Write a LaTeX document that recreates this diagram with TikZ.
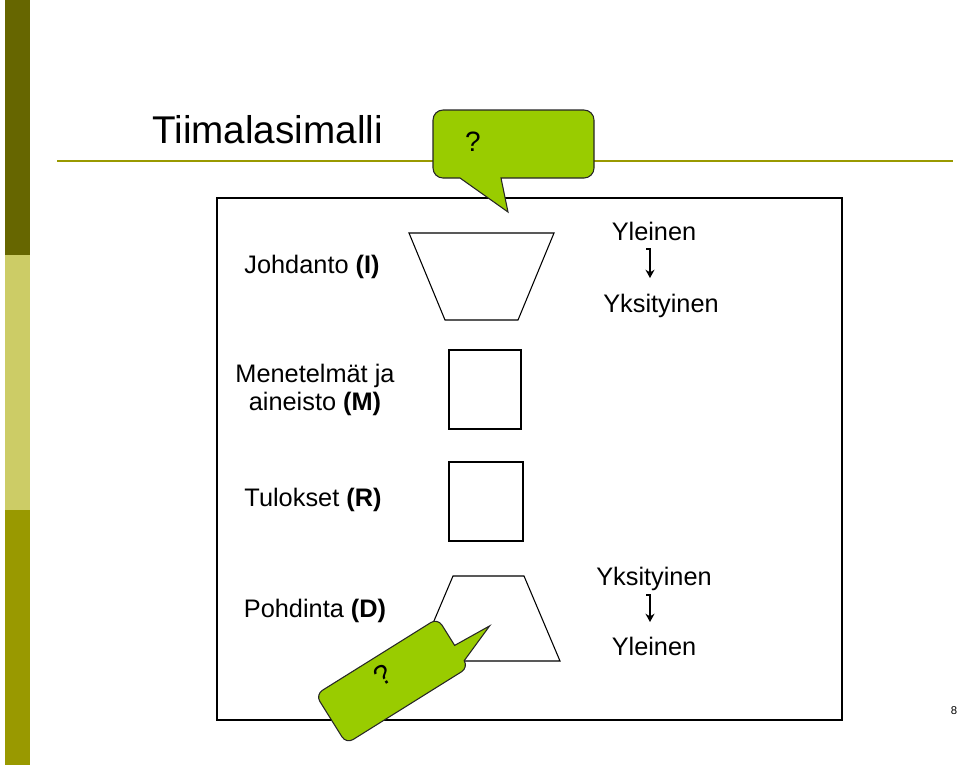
\documentclass[tikz,border=0pt]{standalone}
\usepackage{fontspec}
\setmainfont{Liberation Sans}
\usetikzlibrary{arrows.meta}
\definecolor{stripdark}{RGB}{102,102,0}
\definecolor{striplight}{RGB}{204,204,102}
\definecolor{stripmid}{RGB}{153,153,0}
\definecolor{callgreen}{RGB}{153,204,0}
\tikzset{
  lbl/.style={font=\fontsize{19}{20.5}\selectfont, inner sep=0pt, align=center},
  qmark/.style={font=\fontsize{21}{24}\selectfont, inner sep=0pt},
  shp/.style={draw=black, line width=0.8pt},
  call/.style={draw=black!85, fill=callgreen, line width=0.8pt},
  genarr/.style={-{Stealth[length=2.2mm, width=2.4mm]}, line width=0.9pt},
}

\begin{document}
\begin{tikzpicture}[x=0.75pt, y=-0.75pt]
  \useasboundingbox (0,0) rectangle (960,765);
  % side stripe
  \fill[stripdark] (5,0) rectangle (30,255);
  \fill[striplight] (5,255) rectangle (30,510);
  \fill[stripmid] (5,510) rectangle (30,765);
  % title and rule
  \node[anchor=base west, font=\fontsize{29}{34}\selectfont, inner sep=0pt] (title) at (152,143) {Tiimalasimalli};
  \draw[stripmid, line width=2.2pt] (57,161) -- (953,161);
  % frame
  \draw[line width=1.1pt] (217,198) rectangle (842,720);
  % hourglass parts
  \draw[shp] (409,233) -- (554,233) -- (518,320) -- (445,320) -- cycle;
  \draw[shp] (449,350) rectangle (521,429);
  \draw[shp] (449,462) rectangle (523,541);
  \draw[shp] (453,576) -- (524,576) -- (560,661) -- (417,661) -- cycle;
  % section labels
  \node[lbl, anchor=base] (intro) at (312,273) {Johdanto \textbf{(I)}};
  \node[lbl, anchor=base] (meth) at (315,410) {Menetelmät ja\\aineisto \textbf{(M)}};
  \node[lbl, anchor=base] (res) at (313,506) {Tulokset \textbf{(R)}};
  \node[lbl, anchor=base] (disc) at (315,617) {Pohdinta \textbf{(D)}};
  % general / specific
  \node[lbl, anchor=base] (gen1) at (654,240) {Yleinen};
  \node[lbl, anchor=base] (spec1) at (661,312) {Yksityinen};
  \node[lbl, anchor=base] (spec2) at (654,585) {Yksityinen};
  \node[lbl, anchor=base] (gen2) at (654,655) {Yleinen};
  \coordinate (top1) at (650,249);  \coordinate (tip1) at (650,278);
  \coordinate (top2) at (650,595);  \coordinate (tip2) at (650,622);
  \draw[genarr] ([xshift=-3pt]top1) -- (top1) -- (tip1);
  \draw[genarr] ([xshift=-3pt]top2) -- (top2) -- (tip2);
  % callouts
  \draw[call] (443,110) -- (584,110) arc[start angle=270, end angle=360, radius=10]
    -- (594,168) arc[start angle=0, end angle=90, radius=10]
    -- (501,178) -- (508,212) -- (460,178)
    -- (443,178) arc[start angle=90, end angle=180, radius=10]
    -- (433,120) arc[start angle=180, end angle=270, radius=10] -- cycle;
  \node[qmark] (q1) at (473,142) {?};
  \begin{scope}[shift={(392,681)}, rotate=32]
    \draw[call] (-64,-29) -- (64,-29) arc[start angle=270, end angle=360, radius=8]
      -- (72,3) -- (112,5) -- (72,21) arc[start angle=0, end angle=90, radius=8]
      -- (-64,29) arc[start angle=90, end angle=180, radius=8]
      -- (-72,-21) arc[start angle=180, end angle=270, radius=8] -- cycle;
    \node[qmark, rotate=32] (q2) at (-4,-10) {?};
  \end{scope}
  % page number
  \node[font=\fontsize{8.5}{10}\selectfont, inner sep=0pt] (pnum) at (954,711) {8};
\end{tikzpicture}
\end{document}
